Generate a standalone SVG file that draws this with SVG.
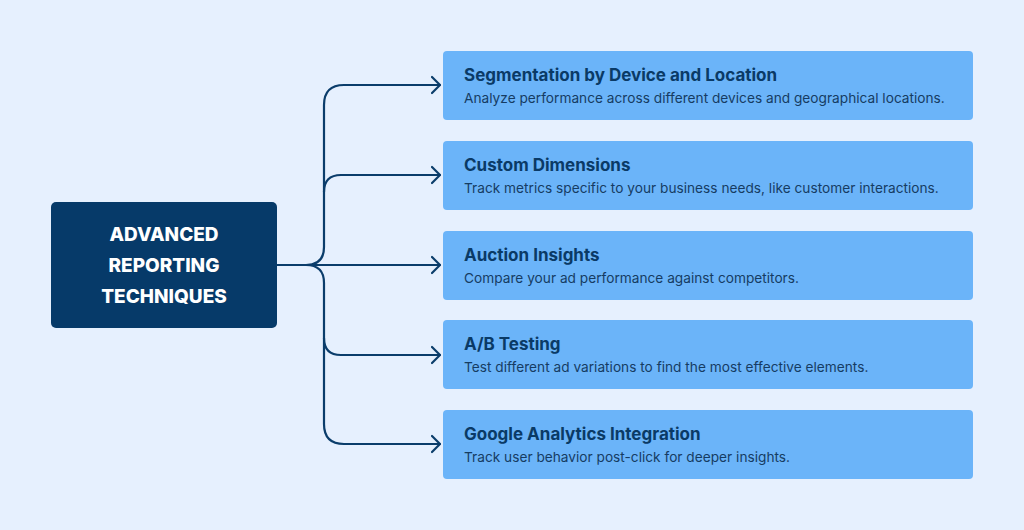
<svg xmlns="http://www.w3.org/2000/svg" width="1024" height="530" viewBox="0 0 1024 530">
<defs>
<style>
.bg{fill:#e6f0fe}
.hub{fill:#063a69}
.hubt{font-family:Inter,"Liberation Sans",sans-serif;font-weight:800;font-size:19px;fill:#ffffff;text-anchor:middle}
.card{fill:#6bb4f9}
.t{font-family:Inter,"Liberation Sans",sans-serif;font-weight:700;font-size:17px;fill:#0a3a66}
.s{font-family:Inter,"Liberation Sans",sans-serif;font-weight:400;font-size:13.7px;fill:#163c63}
.c{fill:none;stroke:#0b3d6b;stroke-width:2.2;stroke-linecap:round;stroke-linejoin:round}
</style>
<marker id="arr" viewBox="0 0 10 20" refX="9" refY="10" markerWidth="10" markerHeight="20" markerUnits="userSpaceOnUse" orient="auto">
<path d="M1,2 L9,10 L1,18" fill="none" stroke="#0b3d6b" stroke-width="2.2" stroke-linecap="round" stroke-linejoin="round"/>
</marker>
</defs>
<rect class="bg" x="0" y="0" width="1024" height="530"/>
<g id="connectors">
<path class="c" d="M277,265 H440" marker-end="url(#arr)"/>
<path class="c" d="M306,265 Q324,265 324,247 V105 Q324,85 344,85 H440" marker-end="url(#arr)"/>
<path class="c" d="M324,192 Q324,175 341,175 H440" marker-end="url(#arr)"/>
<path class="c" d="M306,265 Q324,265 324,283 V424 Q324,444 344,444 H440" marker-end="url(#arr)"/>
<path class="c" d="M324,338 Q324,355 341,355 H440" marker-end="url(#arr)"/>
</g>
<g id="hub">
<rect class="hub" x="51" y="202" width="226" height="126" rx="5"/>
<text class="hubt" x="164" y="241">ADVANCED</text>
<text class="hubt" x="164" y="272">REPORTING</text>
<text class="hubt" x="164" y="303">TECHNIQUES</text>
</g>
<g id="n1">
<rect class="card" x="443" y="51" width="530" height="69" rx="4"/>
<text class="t" x="464" y="81">Segmentation by Device and Location</text>
<text class="s" x="464" y="103">Analyze performance across different devices and geographical locations.</text>
</g>
<g id="n2">
<rect class="card" x="443" y="141" width="530" height="69" rx="4"/>
<text class="t" x="464" y="171">Custom Dimensions</text>
<text class="s" x="464" y="193">Track metrics specific to your business needs, like customer interactions.</text>
</g>
<g id="n3">
<rect class="card" x="443" y="231" width="530" height="69" rx="4"/>
<text class="t" x="464" y="261">Auction Insights</text>
<text class="s" x="464" y="283">Compare your ad performance against competitors.</text>
</g>
<g id="n4">
<rect class="card" x="443" y="320" width="530" height="69" rx="4"/>
<text class="t" x="464" y="350">A/B Testing</text>
<text class="s" x="464" y="372">Test different ad variations to find the most effective elements.</text>
</g>
<g id="n5">
<rect class="card" x="443" y="410" width="530" height="69" rx="4"/>
<text class="t" x="464" y="440">Google Analytics Integration</text>
<text class="s" x="464" y="462">Track user behavior post-click for deeper insights.</text>
</g>
</svg>
